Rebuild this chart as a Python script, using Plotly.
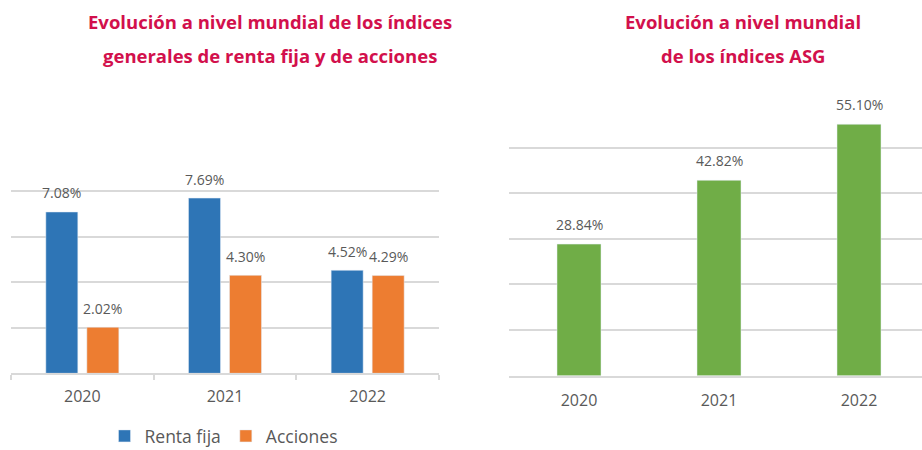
import plotly.graph_objects as go

years = ["2020", "2021", "2022"]
renta_fija = [7.08, 7.69, 4.52]
acciones = [2.02, 4.30, 4.29]
asg = [28.84, 42.82, 55.10]

title_left = ["Evolución a nivel mundial de los índices", "generales de renta fija y de acciones"]
title_right = ["Evolución a nivel mundial", "de los índices ASG"]

BLUE = "#2E75B6"
ORANGE = "#ED7D31"
GREEN = "#70AD47"
GRID = "#D9D9D9"
TXT = "#595959"
TITLE = "#D2104C"
FONT = "Open Sans"

W, H = 922, 450

fig = go.Figure()
fig.add_trace(go.Bar(x=years, y=renta_fija, name="Renta fija", marker_color=BLUE,
                     xaxis="x", yaxis="y"))
fig.add_trace(go.Bar(x=years, y=acciones, name="Acciones", marker_color=ORANGE,
                     xaxis="x", yaxis="y"))
fig.add_trace(go.Bar(x=years, y=asg, name="ASG", marker_color=GREEN, showlegend=False,
                     xaxis="x2", yaxis="y2", width=44 / 140))

annotations = []
for i, y in enumerate(years):
    annotations.append(dict(x=i, y=renta_fija[i], xref="x", yref="y", text=f"{renta_fija[i]:.2f}%",
                            showarrow=False, xshift=-20.5, yshift=19, yanchor="middle",
                            font=dict(family=FONT, size=14, color=TXT)))
    annotations.append(dict(x=i, y=acciones[i], xref="x", yref="y", text=f"{acciones[i]:.2f}%",
                            showarrow=False, xshift=20.5, yshift=19, yanchor="middle",
                            font=dict(family=FONT, size=14, color=TXT)))
    annotations.append(dict(x=i, y=asg[i], xref="x2", yref="y2", text=f"{asg[i]:.2f}%",
                            showarrow=False, yshift=19.5, yanchor="middle",
                            font=dict(family=FONT, size=14, color=TXT)))

for k, line in enumerate(title_left):
    annotations.append(dict(x=270 / W, y=1 - (22 + 33 * k) / H, xref="paper", yref="paper",
                            text=line, showarrow=False, xanchor="center", yanchor="middle",
                            font=dict(family=FONT, size=18.5, color=TITLE, weight=700)))
for k, line in enumerate(title_right):
    annotations.append(dict(x=743 / W, y=1 - (22 + 33 * k) / H, xref="paper", yref="paper",
                            text=line, showarrow=False, xanchor="center", yanchor="middle",
                            font=dict(family=FONT, size=18.5, color=TITLE, weight=700)))

fig.update_layout(
    width=W, height=H,
    margin=dict(l=0, r=0, t=0, b=0, autoexpand=False),
    paper_bgcolor="white", plot_bgcolor="white",
    barmode="group", bargap=0.425, bargroupgap=0.22,
    font=dict(family=FONT, color=TXT),
    annotations=annotations,
    legend=dict(orientation="h", x=224 / W, xanchor="center", y=1 - 436 / H, yanchor="middle",
                font=dict(family=FONT, size=17.5, color=TXT), itemwidth=30),
    xaxis=dict(domain=[11 / W, 439 / W], range=[-0.5, 2.5], type="category",
               showline=True, linecolor=GRID, linewidth=1.5, automargin=False,
               ticks="outside", tickson="boundaries", ticklen=5, tickcolor=GRID, tickwidth=1.5,
               showgrid=False, tickfont=dict(family=FONT, size=16, color=TXT),
               ticklabelstandoff=8, fixedrange=True),
    yaxis=dict(domain=[1 - 373.3 / H, 1 - 145 / H], range=[0, 10.02], dtick=2,
               showgrid=True, gridcolor=GRID, gridwidth=1.5, zeroline=False,
               showticklabels=False, fixedrange=True),
    xaxis2=dict(domain=[509 / W, 1], range=[-0.5, -0.5 + 413 / 140], type="category",
                showline=True, linecolor=GRID, linewidth=1.5, anchor="y2", automargin=False,
                ticks="outside", ticklen=5, tickcolor="rgba(0,0,0,0)",
                showgrid=False, tickfont=dict(family=FONT, size=16, color=TXT),
                ticklabelstandoff=4, fixedrange=True),
    yaxis2=dict(domain=[1 - 375.7 / H, 1 - 101.7 / H], range=[0, 60.05], dtick=10,
                anchor="x2",
                showgrid=True, gridcolor=GRID, gridwidth=1.5, zeroline=False,
                showticklabels=False, fixedrange=True),
)

fig.write_html("out.html", config={"displayModeBar": False},
               post_script="document.body.style.margin='0';document.body.style.overflow='hidden';")
